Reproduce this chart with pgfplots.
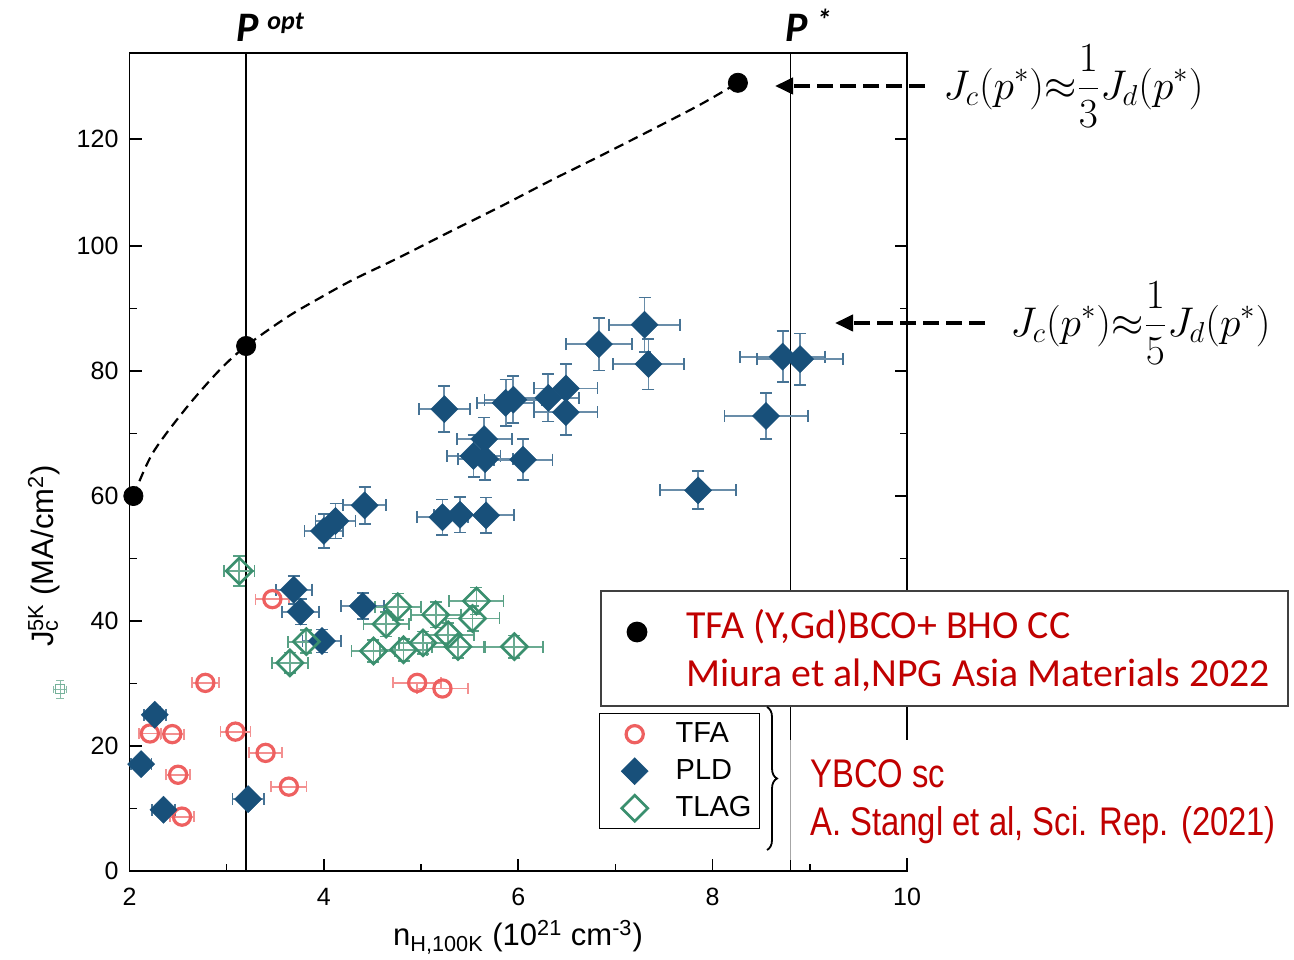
\documentclass[border=0pt]{standalone}
\usepackage{fontspec}
\setmainfont{Liberation Sans}
\newfontfamily\carlito{Carlito}
\usepackage{graphicx}
\usepackage{calc}
\usepackage{pgfplots}
\pgfplotsset{compat=1.18}
\usetikzlibrary{decorations.pathreplacing, arrows.meta}

\definecolor{pld}{RGB}{24,80,122}
\definecolor{tfa}{RGB}{238,96,96}
\definecolor{tlag}{RGB}{58,143,110}
\definecolor{refred}{RGB}{192,0,0}

% stacked sub- and superscript in text mode
\newcommand{\subsup}[2]{\makebox[0pt][l]{\textsuperscript{#2}}\makebox[\widthof{\textsuperscript{#2}}][l]{\textsubscript{#1}}}

\begin{document}
\begin{tikzpicture}
\path[use as bounding box] (0,0) rectangle (647pt,479.5pt);
\begin{axis}[
  at={(64.75pt,44pt)}, anchor=south west,
  scale only axis, width=388.75pt, height=409pt,
  clip=false,
  xmin=2, xmax=10, ymin=0, ymax=136.07,
  % the range above 100 is compressed
  y coord trafo/.code={\pgfmathparse{#1>100 ? 100+(#1-100)*0.856 : #1}},
  y coord inv trafo/.code={\pgfmathparse{#1>100 ? 100+(#1-100)/0.856 : #1}},
  xtick={2,4,6,8,10}, minor xtick={3,5,7,9},
  ytick={0,20,40,60,80,100,120}, minor ytick={10,30,50,70,90},
  xtick pos=bottom, ytick pos=both, tick align=inside,
  major tick length=6pt, minor tick length=3.5pt,
  every tick/.style={black, line width=0.8pt},
  axis line style={line width=0.9pt},
  tick label style={font=\fontsize{12.5}{15}\selectfont},
  /pgf/number format/assume math mode=true,
  xticklabel style={yshift=-5pt},
  yticklabel style={xshift=-2pt},
  xlabel={n\textsubscript{H,100K} (10\textsuperscript{21} cm\textsuperscript{-3})},
  ylabel={J\subsup{c}{5K} (MA/cm\textsuperscript{2})},
  label style={font=\fontsize{15.5}{18}\selectfont},
  xlabel style={at={(axis description cs:0.4997,-0.0807)}, anchor=center},
  ylabel style={at={(axis description cs:-0.11,0.385)}, anchor=center},
  legend style={at={(axis description cs:0.604,0.193)}, anchor=north west,
    draw=black, line width=0.6pt, fill=white,
    font=\fontsize{14.5}{17}\selectfont, inner xsep=2pt, inner ysep=2.5pt,
    row sep=3pt, column sep=3pt},
  legend cell align=left,
  legend image code/.code={\path[draw=none, fill=none] (0pt,-1pt) rectangle (31pt,1pt);
    \draw[mark repeat=2,mark phase=2,#1,only marks]
    plot coordinates {(0pt,0pt) (15.5pt,0pt) (31pt,0pt)};},
]

% reference lines at p_opt and p*
\draw[line width=1pt] (axis cs:3.2,0) -- (axis cs:3.2,136.07);
\draw[line width=0.8pt] (axis cs:8.8,0) -- (axis cs:8.8,136.07);

% dashed guide through the coated-conductor points
\addplot[black, line width=1.1pt, dash pattern=on 5pt off 3pt, smooth, forget plot]
  coordinates {(2.04,60) (2.24,66.9) (2.59,74.2) (2.93,80.2) (3.2,84)
               (3.62,88.6) (3.96,91.7) (4.30,94.6) (4.78,98.2) (5.29,102.6)
               (5.81,107.3) (6.33,112.2) (6.84,116.8) (7.35,121.5) (7.87,126.4)
               (8.26,130.5)};

% TFA (Y,Gd)BCO + BHO coated conductor
\addplot[only marks, mark=*, mark size=4.8pt, black, forget plot]
  coordinates {(2.04,60) (3.2,84) (8.26,130.5)};

% TFA
\addplot[/tikz/only marks, mark=o, mark size=4.3pt, tfa,
  mark options={line width=1.6pt},
  error bars/.cd, x dir=both, x fixed relative=0.05,
  error bar style={tfa!70, line width=0.9pt},
  error mark options={tfa!70, rotate=90, mark size=2.8pt, line width=0.9pt}]
  coordinates {(3.47,43.5) (2.78,30.1) (2.21,22.0) (2.44,21.9) (3.09,22.3)
               (3.40,18.9) (2.50,15.4) (3.64,13.5) (2.54,8.7) (4.96,30.1)
               (5.22,29.2)};
\addlegendentry{TFA}

% PLD
\addplot[/tikz/only marks, mark=square*, mark size=4.8pt, pld,
  mark options={rotate=45, fill=pld, draw=pld, line width=0.2pt},
  error bars/.cd, x dir=both, y dir=both,
  x fixed relative=0.05, y fixed relative=0.05,
  error bar style={pld!65, line width=0.9pt},
  error mark options={pld!80, rotate=90, mark size=3pt, line width=0.9pt}]
  coordinates {(2.26,25.0) (2.12,17.1) (2.35,9.8) (3.22,11.5) (3.69,45.0)
               (3.76,41.5) (3.98,36.8) (4.40,42.4) (4.00,54.4) (4.12,56.0)
               (4.42,58.5) (5.24,73.9) (5.22,56.6) (5.40,57.0) (5.67,56.9)
               (5.65,69.1) (5.54,66.4) (5.66,65.9) (6.05,65.8) (5.87,74.9)
               (5.95,75.4) (6.31,75.7) (6.49,77.2) (6.49,73.4) (6.83,84.3)
               (7.30,87.4) (7.34,81.1) (7.85,60.9) (8.55,72.8) (8.72,82.3)
               (8.90,81.9)};
\addlegendentry{PLD}

% TLAG
\addplot[/tikz/only marks, mark=square, mark size=4.6pt, tlag,
  mark options={rotate=45, line width=1.3pt},
  error bars/.cd, x dir=both, y dir=both,
  x fixed relative=0.05, y fixed relative=0.05,
  error bar style={tlag!75, line width=0.9pt},
  error mark options={tlag!85, rotate=90, mark size=3pt, line width=0.9pt}]
  coordinates {(3.13,48.0) (4.76,42.3) (5.15,41.0) (5.57,43.2) (5.53,40.4)
               (4.64,39.5) (3.82,36.7) (3.65,33.3) (4.51,35.2) (4.82,35.4)
               (5.02,36.5) (5.28,37.8) (5.38,35.9) (5.96,35.9)};
\addlegendentry{TLAG}

% stray TLAG symbol left of the frame
\addplot[only marks, mark=square, mark size=2.2pt, tlag!70, forget plot,
  mark options={line width=0.5pt},
  error bars/.cd, x dir=both, y dir=both,
  x fixed relative=0.05, y fixed relative=0.05,
  error bar style={tlag!60, line width=0.5pt},
  error mark options={tlag!60, rotate=90, mark size=1.8pt, line width=0.5pt}]
  coordinates {(1.285,29.1)};
\end{axis}

\begin{scope}[x=0.5pt, y=-0.5pt, yshift=479.5pt]
  % p labels
  \node[anchor=base west, inner sep=0, font=\carlito\bfseries\itshape\fontsize{21}{24}\selectfont] at (236,42) {P};
  \node[anchor=base west, inner sep=0, font=\carlito\bfseries\itshape\fontsize{13}{15}\selectfont] at (267,30) {opt};
  \node[anchor=base west, inner sep=0, font=\carlito\bfseries\itshape\fontsize{21}{24}\selectfont] at (785,42) {P};
  \node[anchor=base west, inner sep=0, font=\carlito\bfseries\itshape\fontsize{15}{15}\selectfont] at (816,31) {*};

  % arrows and ratios
  \draw[line width=2pt, dash pattern=on 8pt off 3.5pt, -{Triangle[length=9pt,width=8pt]}] (925,86) -- (775,86);
  \draw[line width=2pt, dash pattern=on 8pt off 3.5pt, -{Triangle[length=9pt,width=8pt]}] (985,323) -- (835,323);
  \node[anchor=west, inner sep=0, font=\fontsize{20.5}{24}\selectfont] at (943,86)
    {$\displaystyle J_c(p^*){\approx}\frac{1}{3}J_d(p^*)$};
  \node[anchor=west, inner sep=0, font=\fontsize{20.5}{24}\selectfont] at (1010,323)
    {$\displaystyle J_c(p^*){\approx}\frac{1}{5}J_d(p^*)$};

  % coated-conductor key
  \draw[fill=white, draw=black!75, line width=0.7pt] (601,591) rectangle (1288,706);
  \fill[black] (637,632) circle[radius=5.2pt];
  \node[anchor=base west, inner sep=0, text=refred, font=\carlito\fontsize{19.9}{24}\selectfont] at (686,638)
    {TFA (Y,Gd)BCO+ BHO CC};
  \node[anchor=base west, inner sep=0, text=refred, font=\carlito\fontsize{19.9}{24}\selectfont] at (686,686)
    {Miura et al,NPG Asia Materials 2022};

  % single-crystal group
  \fill[white] (786,740) rectangle (1286,858);
  \draw[black!35, line width=0.4pt] (790,740) -- (790,860);
  \draw[decorate, decoration={brace, amplitude=5pt}, line width=0.9pt] (767,707) -- (767,850);
  \node[anchor=base west, inner sep=0, text=refred, font=\fontsize{20}{24}\selectfont] at (810,787)
    {\scalebox{0.82}[1]{YBCO sc}};
  \node[anchor=base west, inner sep=0, text=refred, font=\fontsize{20}{24}\selectfont] at (810,835)
    {\scalebox{0.82}[1]{A. Stangl et al, Sci. Rep. (2021)}};
\end{scope}
\end{tikzpicture}
\end{document}
